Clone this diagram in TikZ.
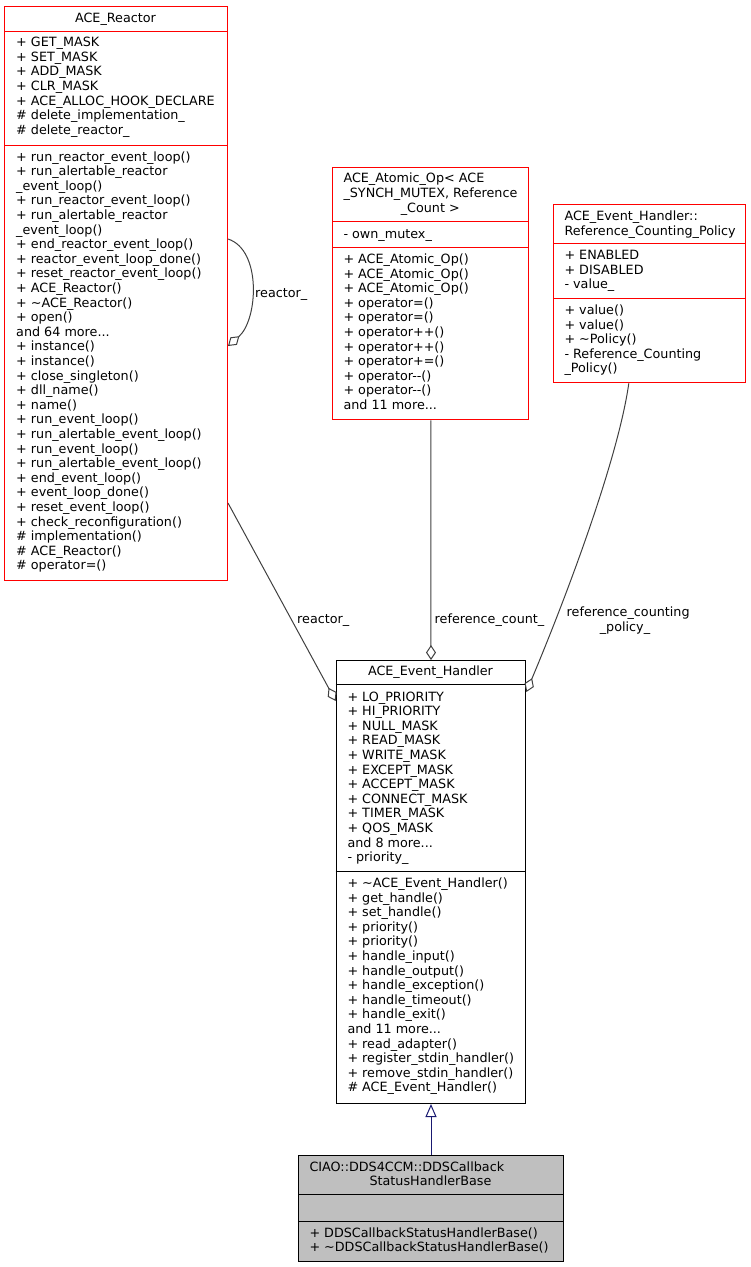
\documentclass[tikz,border=0pt]{standalone}
\usepackage{fontspec}
\setmainfont{DejaVu Sans}
\usetikzlibrary{arrows.meta}
\definecolor{edgegray}{HTML}{404040}
\definecolor{navyblue}{HTML}{191970}
\definecolor{boxgray}{HTML}{BFBFBF}
\newcommand\tdots{...}
\newcommand\mlines[4]{%
  \foreach \itm [count=\i from 0] in {#4}
    \node[txt, anchor=base west] (#1-\i) at (#2, {#3+\i*14.6}) {\itm};}
\begin{document}
\begin{tikzpicture}[x=1pt, y=-1pt,
  txt/.style={font=\fontsize{12.75}{14.6}\selectfont, inner sep=0pt},
  redbox/.style={draw=red, line width=1pt, anchor=north west, inner sep=0pt},
  blackbox/.style={draw=black, line width=1pt, anchor=north west, inner sep=0pt},
  graybox/.style={draw=black, fill=boxgray, line width=1pt, anchor=north west, inner sep=0pt},
  redsep/.style={draw=red, line width=1pt},
  blacksep/.style={draw=black, line width=1pt},
  agg/.style={draw=edgegray, line width=1pt, {Diamond[open, length=15pt, width=10pt]}-},
  inh/.style={draw=navyblue, line width=1pt, -{Triangle[open, length=13pt, width=11pt]}}
]
\useasboundingbox (0,0) rectangle (751,1267);

% ---------- ACE_Reactor ----------
\node[redbox, minimum width=223pt, minimum height=574pt] (reactor) at (4,6) {};
\draw[redsep] (reactor.west |- 0,31) -- (reactor.east |- 0,31);
\draw[redsep] (reactor.west |- 0,145) -- (reactor.east |- 0,145);
\node[txt, anchor=base] (reactor-title) at (115.5,22) {ACE\_Reactor};
\mlines{reactor-a}{16}{46.7}{+ GET\_MASK, + SET\_MASK, + ADD\_MASK, + CLR\_MASK, + ACE\_ALLOC\_HOOK\_DECLARE, \# delete\_implementation\_, \# delete\_reactor\_}
\mlines{reactor-m}{16}{161}{+ run\_reactor\_event\_loop(), + run\_alertable\_reactor, \_event\_loop(), + run\_reactor\_event\_loop(), + run\_alertable\_reactor, \_event\_loop(), + end\_reactor\_event\_loop(), + reactor\_event\_loop\_done(), + reset\_reactor\_event\_loop(), + ACE\_Reactor(), + \textasciitilde ACE\_Reactor(), + open(), and 64 more\tdots, + instance(), + instance(), + close\_singleton(), + dll\_name(), + name(), + run\_event\_loop(), + run\_alertable\_event\_loop(), + run\_event\_loop(), + run\_alertable\_event\_loop(), + end\_event\_loop(), + event\_loop\_done(), + reset\_event\_loop(), + check\_reconfiguration(), \# implementation(), \# ACE\_Reactor(), \# operator=()}

% ---------- ACE_Atomic_Op ----------
\node[redbox, minimum width=196pt, minimum height=252pt] (atomic) at (332.3,167.3) {};
\draw[redsep] (atomic.west |- 0,221.7) -- (atomic.east |- 0,221.7);
\draw[redsep] (atomic.west |- 0,247.3) -- (atomic.east |- 0,247.3);
\node[txt, anchor=base west] (atomic-t1) at (343.3,182.7) {ACE\_Atomic\_Op< ACE};
\node[txt, anchor=base west] (atomic-t2) at (343.3,197.7) {\_SYNCH\_MUTEX, Reference};
\node[txt, anchor=base] (atomic-t3) at (430.3,212.7) {\_Count >};
\node[txt, anchor=base west] (atomic-a) at (343.3,238.4) {- own\_mutex\_};
\mlines{atomic-m}{343.3}{263.4}{+ ACE\_Atomic\_Op(), + ACE\_Atomic\_Op(), + ACE\_Atomic\_Op(), + operator=(), + operator=(), + operator++(), + operator++(), + operator+=(), + operator-{}-(), + operator-{}-(), and 11 more\tdots}

% ---------- Reference_Counting_Policy ----------
\node[redbox, minimum width=192pt, minimum height=178.3pt] (policy) at (553.3,204) {};
\draw[redsep] (policy.west |- 0,243.3) -- (policy.east |- 0,243.3);
\draw[redsep] (policy.west |- 0,298.3) -- (policy.east |- 0,298.3);
\node[txt, anchor=base west] (policy-t1) at (564.3,220) {ACE\_Event\_Handler::};
\node[txt, anchor=base west] (policy-t2) at (564.3,235) {Reference\_Counting\_Policy};
\mlines{policy-a}{564.3}{259.7}{+ ENABLED, + DISABLED, - value\_}
\mlines{policy-m}{564.3}{314.5}{+ value(), + value(), + \textasciitilde Policy(), - Reference\_Counting, \_Policy()}

% ---------- ACE_Event_Handler ----------
\node[blackbox, minimum width=189.6pt, minimum height=443pt] (evh) at (335.7,660) {};
\draw[blacksep] (evh.west |- 0,684.7) -- (evh.east |- 0,684.7);
\draw[blacksep] (evh.west |- 0,871) -- (evh.east |- 0,871);
\node[txt, anchor=base] (evh-title) at (430.5,675.7) {ACE\_Event\_Handler};
\mlines{evh-a}{347.3}{701}{+ LO\_PRIORITY, + HI\_PRIORITY, + NULL\_MASK, + READ\_MASK, + WRITE\_MASK, + EXCEPT\_MASK, + ACCEPT\_MASK, + CONNECT\_MASK, + TIMER\_MASK, + QOS\_MASK, and 8 more\tdots, - priority\_}
\mlines{evh-m}{347.3}{887.4}{+ \textasciitilde ACE\_Event\_Handler(), + get\_handle(), + set\_handle(), + priority(), + priority(), + handle\_input(), + handle\_output(), + handle\_exception(), + handle\_timeout(), + handle\_exit(), and 11 more\tdots, + read\_adapter(), + register\_stdin\_handler(), + remove\_stdin\_handler(), \# ACE\_Event\_Handler()}

% ---------- CIAO::DDS4CCM::DDSCallbackStatusHandlerBase ----------
\node[graybox, minimum width=264.4pt, minimum height=106pt] (ciao) at (298.3,1155) {};
\draw[blacksep] (ciao.west |- 0,1194) -- (ciao.east |- 0,1194);
\draw[blacksep] (ciao.west |- 0,1221) -- (ciao.east |- 0,1221);
\node[txt, anchor=base west] (ciao-t1) at (309.3,1171) {CIAO::DDS4CCM::DDSCallback};
\node[txt, anchor=base] (ciao-t2) at (430.5,1185.5) {StatusHandlerBase};
\mlines{ciao-m}{309.3}{1237}{+ DDSCallbackStatusHandlerBase(), + \textasciitilde DDSCallbackStatusHandlerBase()}

% ---------- connectors ----------
\draw[inh] (ciao.north) -- (evh.south);
\draw[agg] (evh.north) -- (atomic.south);
\draw[agg] ([yshift=-41pt]evh.north west) -- ([yshift=-497pt]reactor.north east);
\draw[agg] ([yshift=-32pt]evh.north east) .. controls (565,600) and (618,460) .. ([xshift=-21pt]policy.south);
\draw[agg] ([yshift=-340pt]reactor.north east) .. controls (258,320) and (262,250) .. ([yshift=-233pt]reactor.north east);

% ---------- connector labels ----------
\node[txt, anchor=base west] (lbl-self) at (255,297) {reactor\_};
\node[txt, anchor=base west] (lbl-reactor) at (297,623.4) {reactor\_};
\node[txt, anchor=base west] (lbl-refcount) at (434.5,623.4) {reference\_count\_};
\node[txt, anchor=base west] (lbl-policy1) at (566.5,616) {reference\_counting};
\node[txt, anchor=base] (lbl-policy2) at (625,631) {\_policy\_};
\end{tikzpicture}
\end{document}
